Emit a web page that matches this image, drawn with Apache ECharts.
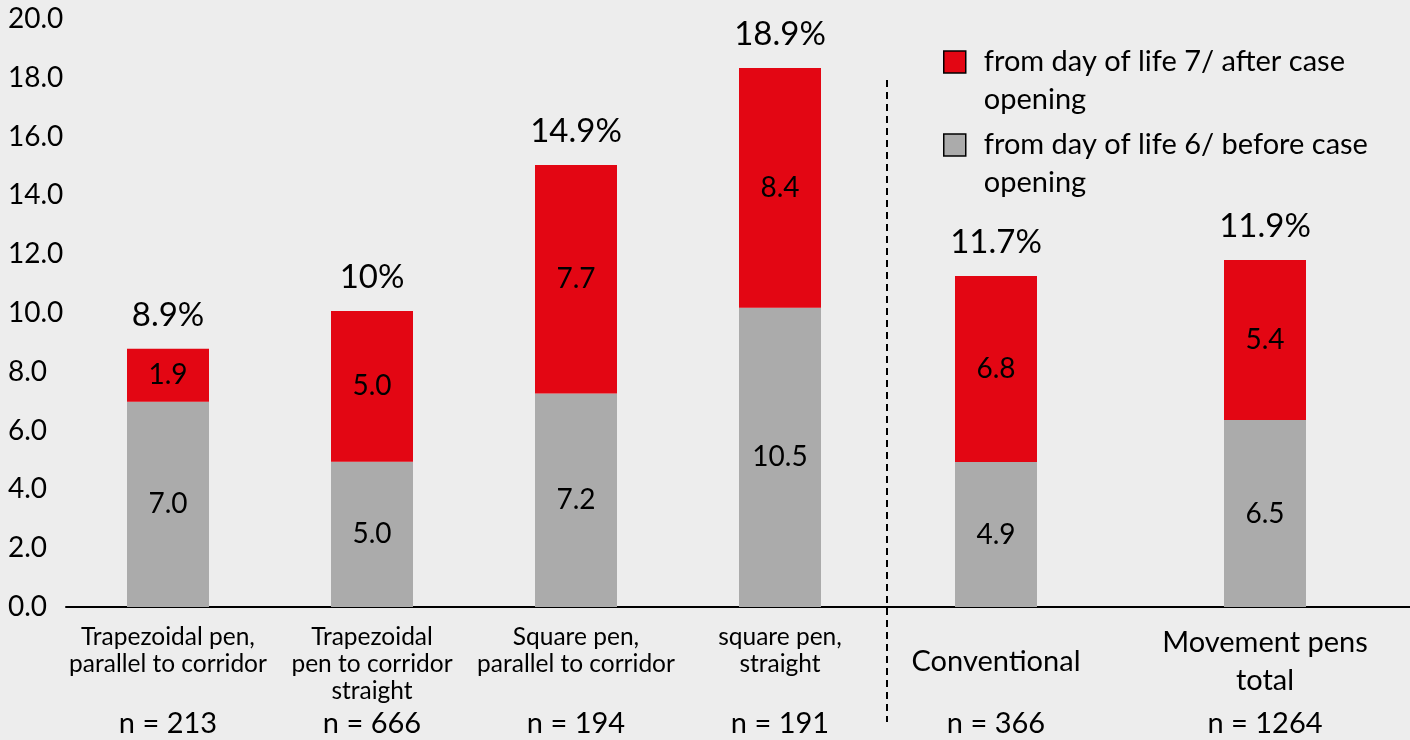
<!DOCTYPE html>
<html><head><meta charset="utf-8">
<script src="https://cdn.jsdelivr.net/npm/echarts@6/dist/echarts.min.js"></script>
<style>html,body{margin:0;padding:0;background:#EDEDED}#c{width:1410px;height:740px}</style>
</head><body><div id="c"></div>
<script>
// ---- data ----
const categoriesLeft = ['Trapezoidal pen,\nparallel to corridor', 'Trapezoidal\npen to corridor\nstraight', 'Square pen,\nparallel to corridor', 'square pen,\nstraight'];
const categoriesRight = ['Conventional', 'Movement pens\ntotal'];
const sampleLeft = ['n = 213', 'n = 666', 'n = 194', 'n = 191'];
const sampleRight = ['n = 366', 'n = 1264'];
// bar segment heights as drawn
const beforeLeft = [6.98, 4.94, 7.26, 10.18];
const afterLeft = [1.80, 5.13, 7.77, 8.15];
const beforeRight = [4.93, 6.36];
const afterRight = [6.33, 5.44];
// printed labels
const beforeLabelsLeft = ['7.0', '5.0', '7.2', '10.5'];
const afterLabelsLeft = ['1.9', '5.0', '7.7', '8.4'];
const totalLabelsLeft = ['8.9%', '10%', '14.9%', '18.9%'];
const beforeLabelsRight = ['4.9', '6.5'];
const afterLabelsRight = ['6.8', '5.4'];
const totalLabelsRight = ['11.7%', '11.9%'];
const yMin = 0, yMax = 20, yStep = 2;
const nameAfter = 'from day of life 7/ after case\nopening';
const nameBefore = 'from day of life 6/ before case\nopening';

// ---- styles ----
const FONT = 'Lato';
const RED = '#E30613';
const GRAY = '#ABABAB';
const BAR_W = 82;

const chart = echarts.init(document.getElementById('c'), null, {renderer: 'canvas'});

function insideLabel(labels) {
  return {show: true, position: 'inside', color: '#000', fontFamily: FONT, fontSize: 28,
    formatter: p => labels[p.dataIndex]};
}
function topLabel(labels) {
  return {show: true, position: 'top', distance: 17, color: '#000', fontFamily: FONT, fontSize: 33,
    formatter: p => labels[p.dataIndex]};
}
function barSeries(name, data, color, xi, yi, stack, label) {
  return {name, type: 'bar', stack, data, xAxisIndex: xi, yAxisIndex: yi, barWidth: BAR_W,
    itemStyle: {color}, label, emphasis: {disabled: true}, animation: false};
}

const option = {
  backgroundColor: '#EDEDED',
  animation: false,
  grid: [
    {left: 66, top: 19, width: 816, bottom: 133},
    {left: 861.5, top: 19, width: 538, bottom: 133}
  ],
  xAxis: [
    {gridIndex: 0, type: 'category', data: categoriesLeft, position: 'bottom',
      axisLine: {lineStyle: {color: '#000', width: 2}}, axisTick: {show: false},
      axisLabel: {interval: 0, color: '#000', fontFamily: FONT, fontSize: 24.5, lineHeight: 27, margin: 17, verticalAlign: 'top'}},
    {gridIndex: 0, type: 'category', data: sampleLeft, position: 'bottom',
      axisLine: {show: false}, axisTick: {show: false},
      axisLabel: {interval: 0, color: '#000', fontFamily: FONT, fontSize: 29, margin: 117, verticalAlign: 'middle'}},
    {gridIndex: 1, type: 'category', data: categoriesRight, position: 'bottom',
      axisLine: {lineStyle: {color: '#000', width: 2}}, axisTick: {show: false},
      axisLabel: {interval: 0, color: '#000', fontFamily: FONT, fontSize: 29, lineHeight: 38, margin: 55, verticalAlign: 'middle'}},
    {gridIndex: 1, type: 'category', data: sampleRight, position: 'bottom',
      axisLine: {show: false}, axisTick: {show: false},
      axisLabel: {interval: 0, color: '#000', fontFamily: FONT, fontSize: 29, margin: 117, verticalAlign: 'middle'}}
  ],
  yAxis: [
    {gridIndex: 0, type: 'value', min: yMin, max: yMax, interval: yStep,
      axisLine: {show: false}, axisTick: {show: false}, splitLine: {show: false},
      axisLabel: {color: '#000', fontFamily: FONT, fontSize: 28, align: 'left', margin: 58,
        formatter: v => v.toFixed(1)}},
    {gridIndex: 1, type: 'value', min: yMin, max: yMax, interval: yStep, show: false}
  ],
  legend: {
    data: [nameAfter, nameBefore],
    orient: 'vertical', left: 943, top: 43, padding: 0, itemGap: 7,
    itemWidth: 22, itemHeight: 60,
    icon: 'path://M0,0L22,0L22,22L0,22Z M0,60',
    itemStyle: {borderColor: '#000', borderWidth: 1.5},
    textStyle: {color: '#000', fontFamily: FONT, fontSize: 29, lineHeight: 38, padding: [0, 0, 0, 13]},
    selectedMode: false
  },
  series: [
    barSeries(nameBefore, beforeLeft, GRAY, 0, 0, 'L', insideLabel(beforeLabelsLeft)),
    barSeries(nameAfter, afterLeft, RED, 0, 0, 'L', insideLabel(afterLabelsLeft)),
    barSeries('totalL', totalLabelsLeft.map(() => 0), 'transparent', 0, 0, 'L', topLabel(totalLabelsLeft)),
    barSeries(nameBefore, beforeRight, GRAY, 2, 1, 'R', insideLabel(beforeLabelsRight)),
    barSeries(nameAfter, afterRight, RED, 2, 1, 'R', insideLabel(afterLabelsRight)),
    barSeries('totalR', totalLabelsRight.map(() => 0), 'transparent', 2, 1, 'R', topLabel(totalLabelsRight))
  ],
  graphic: [
    {type: 'line', shape: {x1: 887, y1: 80, x2: 887, y2: 722},
      style: {stroke: '#000', lineWidth: 2, lineDash: [7, 5]}, silent: true},
    {type: 'line', shape: {x1: 1398, y1: 607, x2: 1410, y2: 607},
      style: {stroke: '#000', lineWidth: 2}, silent: true}
  ]
};
chart.setOption(option);
</script>
</body></html>
